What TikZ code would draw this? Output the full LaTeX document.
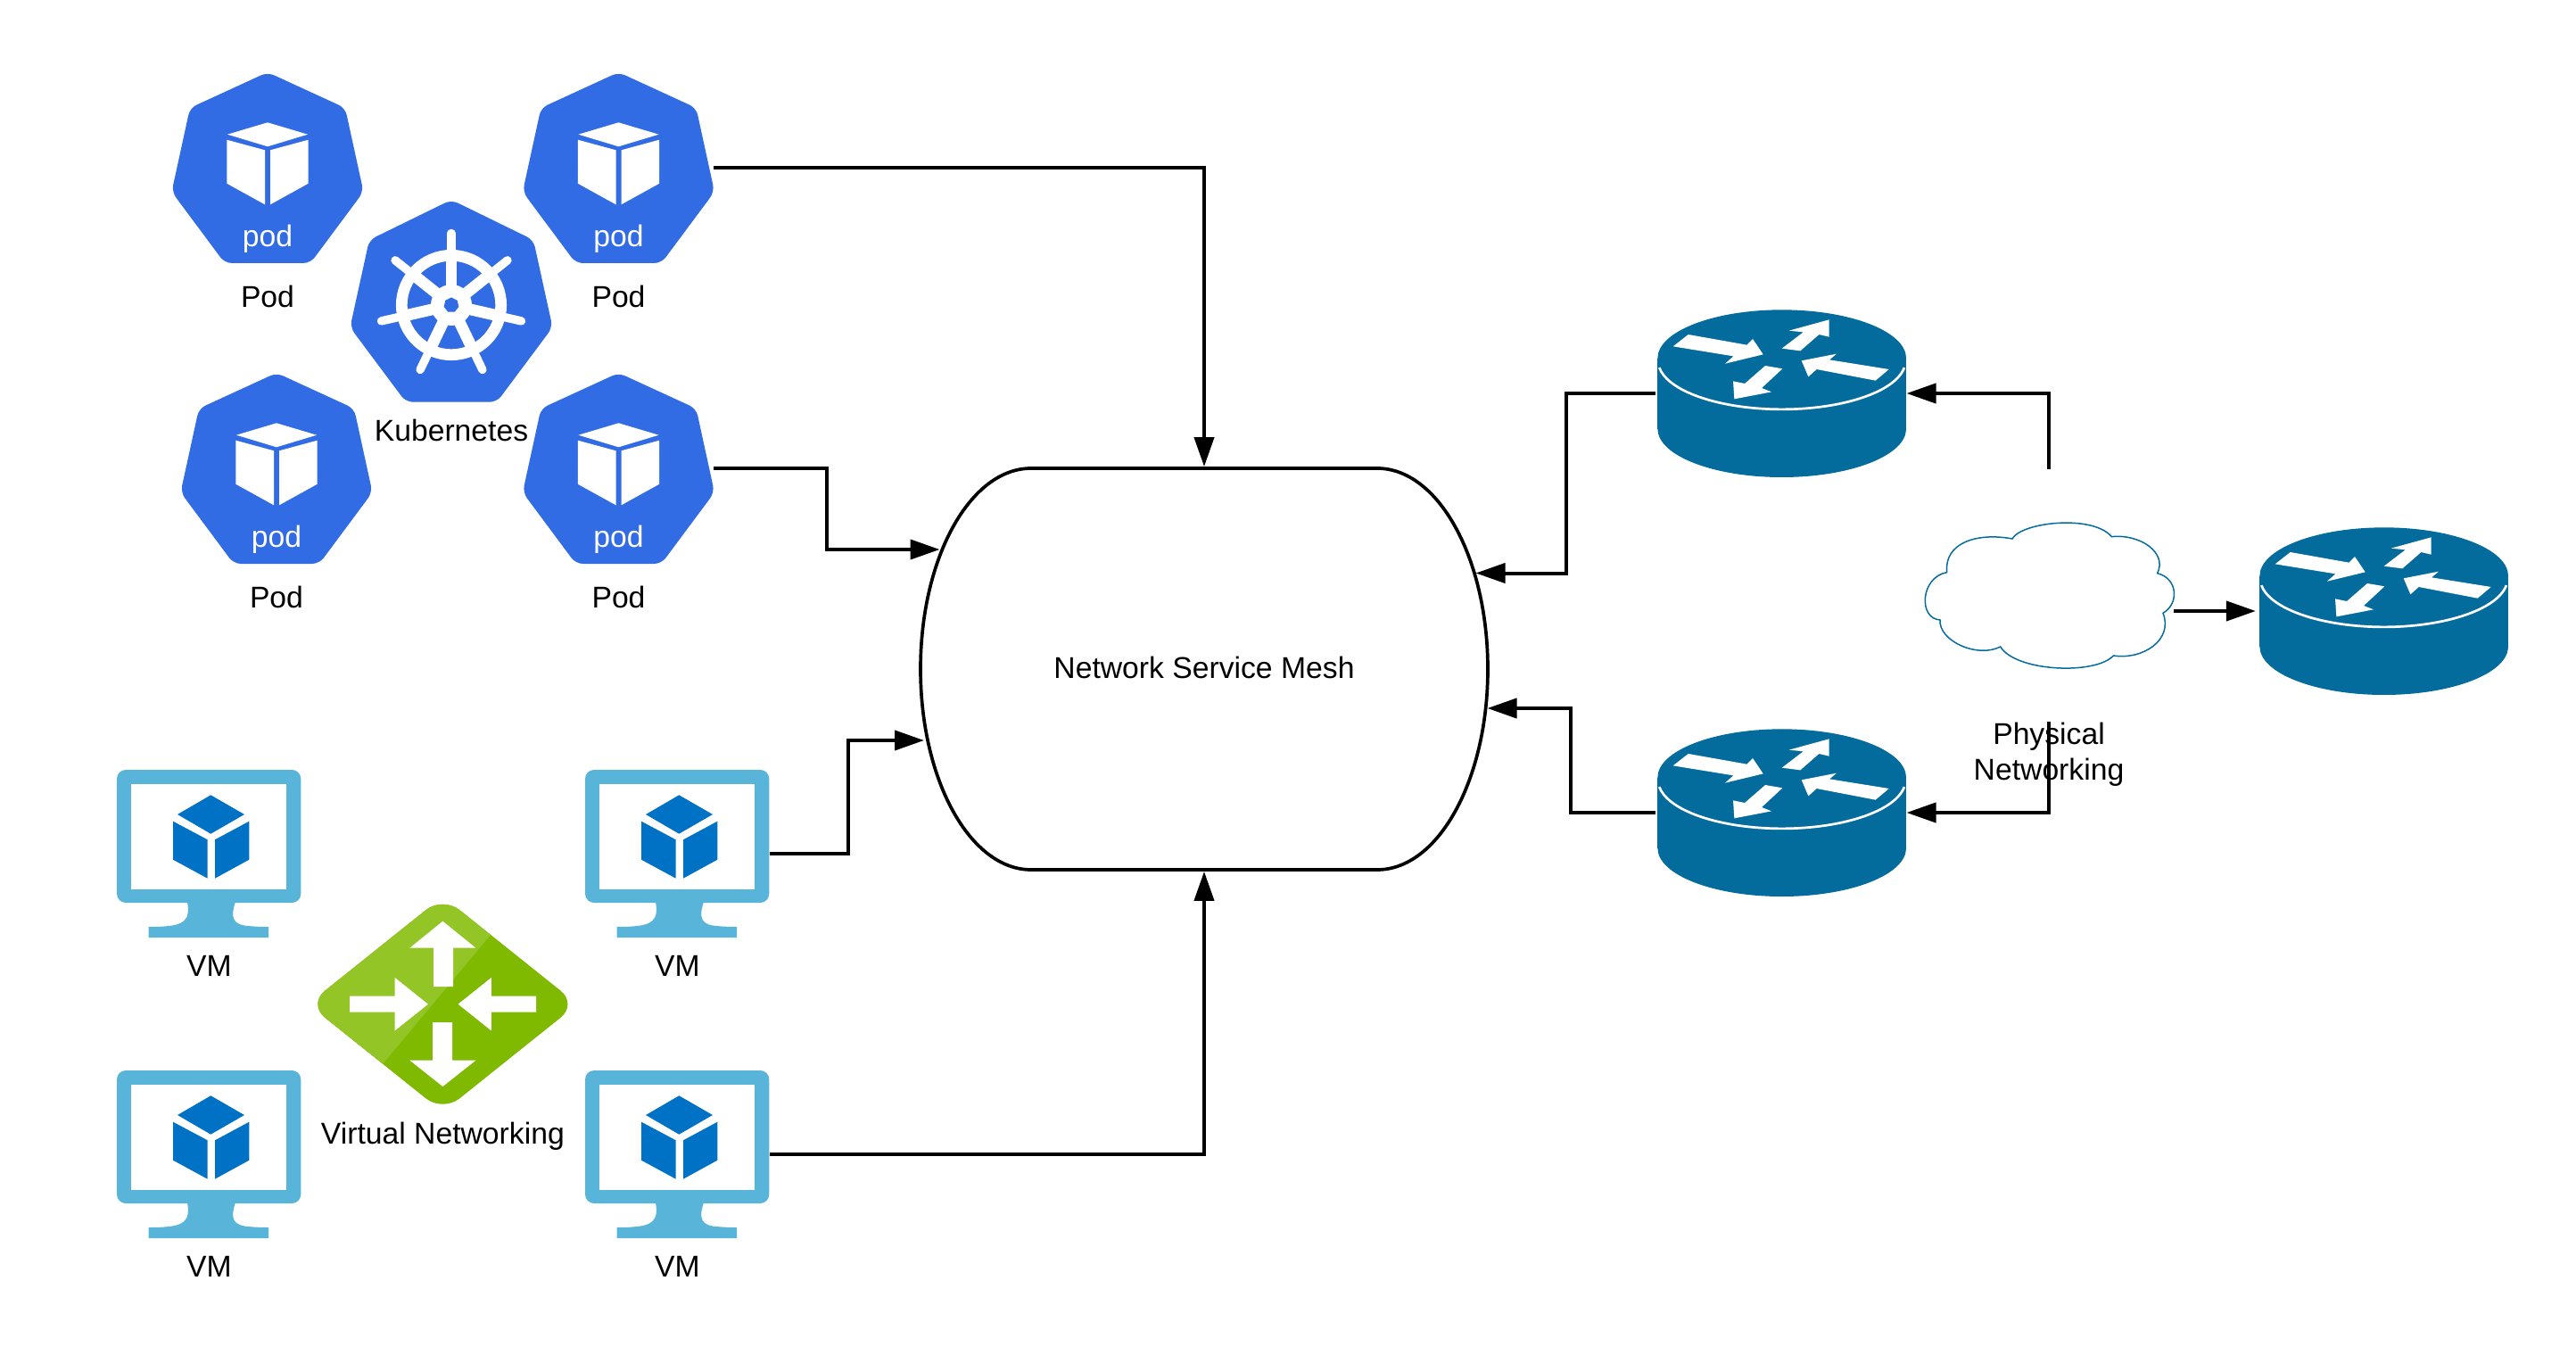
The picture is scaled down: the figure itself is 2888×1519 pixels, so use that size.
\documentclass[tikz,border=0pt]{standalone}
\usepackage{fontspec}
\setmainfont{Liberation Sans}
\usetikzlibrary{arrows.meta}
\definecolor{kubeblue}{HTML}{326CE5}
\definecolor{vmframe}{HTML}{59B4D9}
\definecolor{vmcube}{HTML}{0072C6}
\definecolor{netdark}{HTML}{7FBA00}
\definecolor{netlight}{HTML}{93C526}
\definecolor{routerblue}{HTML}{036C9C}
\tikzset{
  pod icon/.pic={
    \fill[kubeblue,rounded corners=4pt] (0,-107.5) -- (87,-67.5) -- (107.5,26.5) -- (48,106.5) -- (-48,106.5) -- (-107.5,26.5) -- (-87,-67.5) -- cycle;
    \fill[white] (0,-51.2) -- (45,-37.8) -- (0,-24.2) -- (-45,-37.8) -- cycle;
    \fill[white] (-45.7,-31.8) -- (-3,-20.2) -- (-3,40.8) -- (-45.7,17.2) -- cycle;
    \fill[white] (45.7,-31.8) -- (3,-20.2) -- (3,40.8) -- (45.7,17.2) -- cycle;
    \node[main label,white] (-txt) at (0,88.2) {pod};
  },
  kube icon/.pic={
    \fill[kubeblue,rounded corners=4pt] (0,-118) -- (92,-73) -- (113.5,25) -- (51,108.7) -- (-51,108.7) -- (-113.5,25) -- (-92,-73) -- cycle;
    \draw[white,line width=6.35pt] (0,0) circle[radius=55.7];
    \fill[white] (0,0) circle[radius=23];
    \foreach \k [evaluate=\k as \a using -90+\k*360/7] in {0,...,6} {
      \draw[white,line width=6.4pt] (0,0) -- (\a:60);
      \draw[white,line width=4.7pt,line cap=round] (\a:58) -- (\a:80.5);
    }
    \fill[kubeblue] (-90:8.5) -- (-38.6:8.5) -- (12.9:8.5) -- (64.3:8.5) -- (115.7:8.5) -- (167.1:8.5) -- (218.6:8.5) -- cycle;
  },
  vm icon/.pic={
    \begin{scope}[shift={(-103.15,-94)}]
    \fill[vmframe,rounded corners=5pt] (0,0) rectangle (206.3,149);
    \fill[white] (16,16) rectangle (190,134);
    \fill[vmframe] (79,148) .. controls (81,160) and (82,173) .. (58,175) .. controls (50,176) and (42,176) .. (35.7,176) -- (35.7,188) -- (170,188) -- (170,176) .. controls (160,176) and (150,175.5) .. (143,174.5) .. controls (127,172) and (129,160) .. (133,148) -- cycle;
    \fill[vmcube] (105.3,28.3) -- (143,50) -- (105.3,71.7) -- (68,50) -- cycle;
    \fill[vmcube] (63,57.7) -- (101.7,78.3) -- (101.7,121.7) -- (63,100.7) -- cycle;
    \fill[vmcube] (148.3,57.7) -- (110,78.3) -- (110,121.7) -- (148.3,100.7) -- cycle;
    \end{scope}
  },
  net icon/.pic={
    \begin{scope}
    \clip[rounded corners=12pt] (0,-120.7) -- (151,0) -- (0,120.8) -- (-151,0) -- cycle;
    \fill[netdark] (-160,-130) rectangle (160,130);
    \fill[netlight] (53.4,-77.4) -- (-66.4,66) -- (-160,66) -- (-160,-130) -- (53.4,-130) -- cycle;
    \end{scope}
    \fill[white] (0,-93) -- (37,-63) -- (11.6,-63) -- (11.6,-19.7) -- (-10.4,-19.7) -- (-10.4,-63) -- (-37,-63) -- cycle;
    \fill[white] (-104.4,-9) -- (-53.7,-9) -- (-53.7,-29.7) -- (-16.5,0) -- (-53.7,29.7) -- (-53.7,9) -- (-104.4,9) -- cycle;
    \fill[white] (104.6,-9) -- (54.4,-9) -- (54.4,-29.7) -- (17.2,0) -- (54.4,29.7) -- (54.4,9) -- (104.6,9) -- cycle;
    \fill[white] (-11.4,20.3) -- (10.6,20.3) -- (10.6,63) -- (37,63) -- (0,92.3) -- (-37,63) -- (-11.4,63) -- cycle;
  },
  router icon/.pic={
    \begin{scope}[scale=1/3,shift={(-428,-303)}]
    \fill[routerblue] (428,185) ellipse[x radius=418,y radius=163];
    \fill[routerblue] (10,185) rectangle (846,422);
    \fill[routerblue] (428,422) ellipse[x radius=418,y radius=163];
    \draw[white,line width=1.35pt] (839.6,216.3) arc[start angle=8,end angle=172,x radius=416,y radius=163];
    \fill[white] (113,105) -- (310,140) -- (330,120) -- (365,172) -- (237,203) -- (265,178) -- (62,145) -- cycle;
    \fill[white] (428,152) -- (500,97) -- (452,92) -- (587,55) -- (587,113) -- (553,105) -- (490,160) -- cycle;
    \fill[white] (788,222) -- (743,260) -- (545,222) -- (517,247) -- (494,193) -- (612,170) -- (588,190) -- cycle;
    \fill[white] (372,210) -- (430,220) -- (360,285) -- (393,298) -- (268,322) -- (264,262) -- (303,270) -- cycle;
    \end{scope}
  }
}
\begin{document}
\begin{tikzpicture}[x=.5pt,y=-.5pt,
  main label/.style={font=\fontsize{16.85}{20.15}\selectfont,inner sep=0pt,anchor=base},
  pod box/.style={minimum width=106.5pt,minimum height=106.5pt,inner sep=0pt},
  vm box/.style={minimum width=103.15pt,minimum height=94pt,inner sep=0pt},
  router box/.style={minimum width=139.4pt,minimum height=94pt,inner sep=0pt},
  mesh node/.style={minimum width=318.5pt,minimum height=225pt,inner sep=0pt,text height=10pt,text depth=0pt,font=\fontsize{16.85}{20.15}\selectfont},
  conn/.style={line width=2pt,shorten >=.75pt,-{Triangle[length=16.5pt,width=11pt]}}]
\useasboundingbox (0,0) rectangle (2888,1519);

\node [pod box](pod1) at (300,188.5) {};
\node [pod box](pod2) at (693.5,188.5) {};
\node [pod box](pod3) at (310,525.5) {};
\node [pod box](pod4) at (693.5,525.5) {};
\pic at (pod1) {pod icon};
\pic at (pod2) {pod icon};
\pic at (pod3) {pod icon};
\pic at (pod4) {pod icon};
\node [main label](podtxt1) at (300,345) {Pod};
\node [main label](podtxt2) at (693.5,345) {Pod};
\node [main label](podtxt3) at (310,682) {Pod};
\node [main label](podtxt4) at (693.5,682) {Pod};

\node [pod box](kube) at (506,342) {};
\pic at (kube) {kube icon};
\node [main label](kubetxt) at (506,495) {Kubernetes};

\node [vm box](vm1) at (234.15,957) {};
\node [vm box](vm2) at (759.15,957) {};
\node [vm box](vm3) at (234.15,1294) {};
\node [vm box](vm4) at (759.15,1294) {};
\pic at (vm1) {vm icon};
\pic at (vm2) {vm icon};
\pic at (vm3) {vm icon};
\pic at (vm4) {vm icon};
\node [main label](vmtxt1) at (234.5,1094.5) {VM};
\node [main label](vmtxt2) at (759.5,1094.5) {VM};
\node [main label](vmtxt3) at (234.5,1431.5) {VM};
\node [main label](vmtxt4) at (759.5,1431.5) {VM};

\node [pod box](net) at (496.4,1125.7) {};
\pic at (net) {net icon};
\node [main label](nettxt) at (496.4,1282.5) {Virtual Networking};

\node [mesh node](mesh) at (1350,750) {Network Service Mesh};
\draw [line width=1.85pt] (1156,525) arc[start angle=-90,end angle=-270,x radius=124,y radius=225]
  -- (1544,975) arc[start angle=90,end angle=-90,x radius=124,y radius=225] -- cycle;
\coordinate (meshw1) at (1055,616);
\coordinate (meshw2) at (1037.5,830);
\coordinate (meshe1) at (1653,642.5);
\coordinate (meshe2) at (1666,794);

\node [router box](r1) at (1997.7,441) {};
\node [router box](r2) at (1997.7,911) {};
\node [router box](r3) at (2672.7,685) {};
\pic at (r1) {router icon};
\pic at (r2) {router icon};
\pic at (r3) {router icon};

\begin{scope}[shift={(2150,570)},scale=1/3]
\node [minimum width=140.7pt,minimum height=82.3pt,inner sep=0pt](cloud) at (440,289) {};
\draw [routerblue,line width=.75pt,fill=white] (98,215)
  .. controls (88,115) and (200,80) .. (318,102)
  .. controls (350,45) and (590,20) .. (652,95)
  .. controls (750,85) and (840,150) .. (806,218)
  .. controls (875,235) and (880,320) .. (825,352)
  .. controls (860,440) and (760,510) .. (658,495)
  .. controls (600,560) and (330,550) .. (278,465)
  .. controls (200,505) and (70,445) .. (75,375)
  .. controls (0,370) and (10,230) .. (98,215) -- cycle;
\end{scope}
\coordinate (cloudup) at (2297,526);
\coordinate (clouddown) at (2297,809);
\coordinate (cloudright) at (2437,685);
\node [main label,anchor=center,align=center](phystxt) at (2297,846) {Physical\\Networking};

\draw [conn] (pod2.east) -| (mesh.north);
\draw [conn] (pod4.east) -- ++(127,0) |- (meshw1);
\draw [conn] (vm2.east) -- ++(88,0) |- (meshw2);
\draw [conn] (vm4.east) -| (mesh.south);
\draw [conn,shorten <=1pt] (r1.west) -- (1755.5,441) |- (meshe1);
\draw [conn,shorten <=1pt] (r2.west) -- (1761,911) |- (meshe2);
\draw [conn,shorten >=0pt] (cloudup) |- (r1.east);
\draw [conn,shorten >=0pt] (clouddown) |- (r2.east);
\draw [conn,shorten >=2pt] (cloudright) -- (r3.west |- cloudright);
\end{tikzpicture}
\end{document}
